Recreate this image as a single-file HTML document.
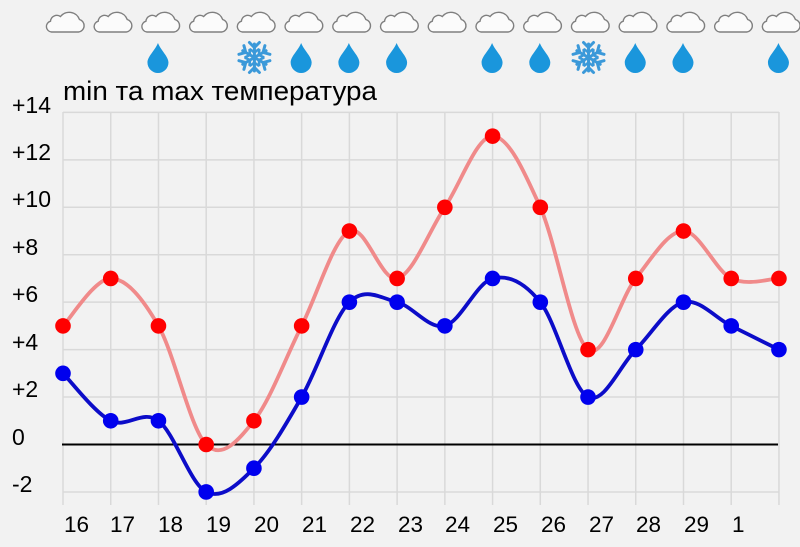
<!DOCTYPE html>
<html><head><meta charset="utf-8">
<style>
html,body{margin:0;padding:0;background:#f2f2f2;}
svg{display:block;}
text{font-family:"Liberation Sans",Arial,"Noto Sans CJK SC",sans-serif;fill:#000;}
</style></head>
<body>
<svg id="s" width="800" height="547" viewBox="0 0 800 547" xmlns="http://www.w3.org/2000/svg">
<rect width="800" height="547" fill="#f2f2f2"/>
<g id="grid"></g>
<g id="icons"></g>
<text x="63" y="100" font-size="27" textLength="314" lengthAdjust="spacingAndGlyphs">min та max температура</text>
<g font-size="23">
<text x="12" y="113">+14</text>
<text x="12" y="160">+12</text>
<text x="12" y="207">+10</text>
<text x="12" y="255">+8</text>
<text x="12" y="302">+6</text>
<text x="12" y="350">+4</text>
<text x="12" y="397">+2</text>
<text x="12" y="445">0</text>
<text x="12" y="492">-2</text>
</g>
<g font-size="22.5">
<text x="64" y="532">16</text>
<text x="110" y="532">17</text>
<text x="158" y="532">18</text>
<text x="206" y="532">19</text>
<text x="254" y="532">20</text>
<text x="302" y="532">21</text>
<text x="350" y="532">22</text>
<text x="398" y="532">23</text>
<text x="445" y="532">24</text>
<text x="493" y="532">25</text>
<text x="541" y="532">26</text>
<text x="589" y="532">27</text>
<text x="636" y="532">28</text>
<text x="684" y="532">29</text>
<text x="732" y="532">1</text>
</g>
<g id="series"></g>
</svg>
<script>
(function(){
var NS="http://www.w3.org/2000/svg";
function X(i){return 63+47.73*i;}
function Y(v){return 444.5-23.72*v;}
function el(tag,attrs,parent){var e=document.createElementNS(NS,tag);for(var k in attrs)e.setAttribute(k,attrs[k]);parent.appendChild(e);return e;}
var grid=document.getElementById('grid');
for(var i=0;i<16;i++){el('line',{x1:X(i),x2:X(i),y1:112,y2:505,stroke:'#d9d9d9','stroke-width':1.5},grid);}
for(var v=14;v>=-2;v-=2){el('line',{x1:63,x2:779,y1:Y(v),y2:Y(v),stroke:'#d9d9d9','stroke-width':1.5},grid);}
el('line',{x1:62,x2:778,y1:Y(0),y2:Y(0),stroke:'#000','stroke-width':2},grid);

var icons=document.getElementById('icons');
var cloud="M -13,0 H 14 A 6.4 6.4 0 0 0 15,-12.5 A 11 11 0 0 0 -4,-15.5 A 6.4 6.4 0 0 0 -14,-10.8 A 5.5 5.5 0 0 0 -13,0 Z";
for(var i=0;i<16;i++){
  el('path',{d:cloud,transform:'translate('+(X(i)+1.5)+',32)',fill:'#fbfbfb',stroke:'#7f7f7f','stroke-width':1.4},icons);
}
var drop="M0,-19.5 C 3,-12 10.5,-6 10.5,0 A10.5 10.5 0 0 1 -10.5,0 C -10.5,-6 -3,-12 0,-19.5 Z";
[2,5,6,7,9,10,12,13,15].forEach(function(i){
  el('path',{d:drop,transform:'translate('+(X(i)-0.5)+',62.5)',fill:'#1a96dc'},icons);
});
[4,11].forEach(function(i){
  var g=el('g',{transform:'translate('+(X(i)+0.5)+',57.5)',stroke:'#3b99d9','stroke-width':3,'stroke-linecap':'round',fill:'none'},icons);
  for(var a=0;a<6;a++){
    var gg=el('g',{transform:'rotate('+(a*60)+')'},g);
    el('line',{x1:0,y1:0,x2:0,y2:-13.5},gg);
    el('polyline',{points:'-5,-15 0,-10 5,-15'},gg);
    el('polyline',{points:'-4,-8 0,-5 4,-8','stroke-width':2.5},gg);
  }
});

var maxV=[5,7,5,0,1,5,9,7,10,13,10,4,7,9,7,7];
var minV=[3,1,1,-2,-1,2,6,6,5,7,6,2,4,6,5,4];
function path(vals){
  var p=vals.map(function(v,i){return [X(i),Y(v)];});
  var d='M'+p[0][0].toFixed(2)+','+p[0][1].toFixed(2);
  for(var i=0;i<p.length-1;i++){
    var p0=p[Math.max(0,i-1)],p1=p[i],p2=p[i+1],p3=p[Math.min(p.length-1,i+2)];
    var c1=[p1[0]+(p2[0]-p0[0])/6,p1[1]+(p2[1]-p0[1])/6];
    var c2=[p2[0]-(p3[0]-p1[0])/6,p2[1]-(p3[1]-p1[1])/6];
    d+=' C'+c1[0].toFixed(2)+','+c1[1].toFixed(2)+' '+c2[0].toFixed(2)+','+c2[1].toFixed(2)+' '+p2[0].toFixed(2)+','+p2[1].toFixed(2);
  }
  return {d:d,p:p};
}
var s=document.getElementById('series');
var r=path(maxV);
el('path',{d:r.d,fill:'none',stroke:'#f08a8a','stroke-width':3.8},s);
r.p.forEach(function(q){el('circle',{cx:q[0],cy:q[1],r:7.8,fill:'#ff0000'},s);});
var b=path(minV);
el('path',{d:b.d,fill:'none',stroke:'#0c0cc8','stroke-width':3.8},s);
b.p.forEach(function(q){el('circle',{cx:q[0],cy:q[1],r:7.8,fill:'#0000ee'},s);});
})();
</script>
</body></html>
